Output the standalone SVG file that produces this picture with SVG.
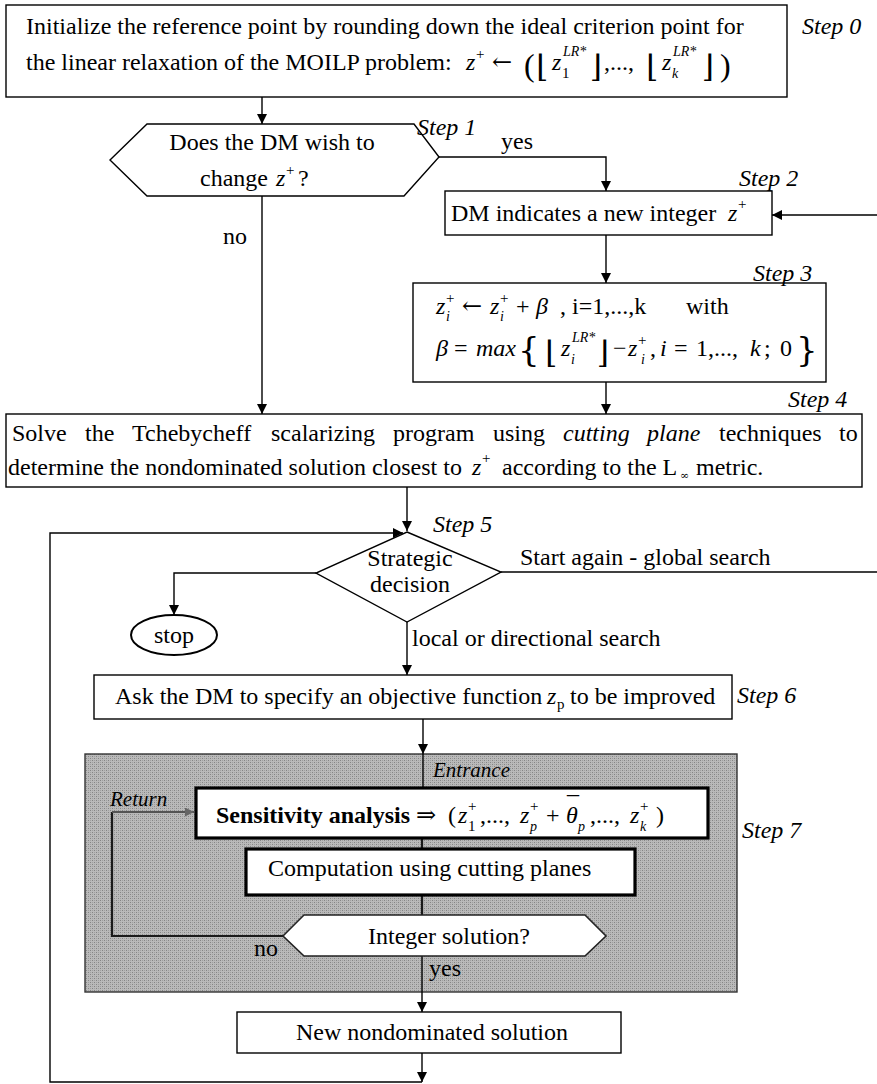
<svg xmlns="http://www.w3.org/2000/svg" width="877" height="1084" viewBox="0 0 877 1084">
  <style>
    text { font-family: "Liberation Serif", "DejaVu Serif", serif; font-size: 24px; fill: #000; }
    .it { font-style: italic; }
    .b { font-weight: bold; }
    .mid { text-anchor: middle; }
    .step { font-style: italic; font-size: 24px; }
    .small { font-size: 21px; font-style: italic; }
    .sup { font-size: 15px; }
    .supi { font-size: 14px; font-style: italic; }
    .big { font-size: 32px; }
    .sym { font-family: "DejaVu Serif", "Liberation Serif", serif; }
    .flr { font-family: "DejaVu Serif", "Liberation Serif", serif; font-size: 31px; }
    .brace { font-family: "DejaVu Serif", "Liberation Serif", serif; font-size: 34px; }
    .box { fill: #fff; stroke: #000; stroke-width: 1.4; }
    .thick { fill: #fff; stroke: #000; stroke-width: 3.2; }
    .wire { fill: none; stroke: #000; stroke-width: 1.4; }
    .wire2 { fill: none; stroke: #1a1a1a; stroke-width: 2.2; }
    .grey { fill: none; stroke: #555; stroke-width: 2; }
  </style>
  <defs>
    <marker id="ah" viewBox="0 0 10 10" refX="10" refY="5" markerWidth="10" markerHeight="10" markerUnits="userSpaceOnUse" orient="auto">
      <path d="M0,0 L10,5 L0,10 z" fill="#000"/>
    </marker>
    <marker id="ahg" viewBox="0 0 10 10" refX="10" refY="5" markerWidth="9" markerHeight="9" markerUnits="userSpaceOnUse" orient="auto">
      <path d="M0,0 L10,5 L0,10 z" fill="#666"/>
    </marker>
    <pattern id="dither" width="4" height="4" patternUnits="userSpaceOnUse">
      <rect width="4" height="4" fill="#bababa"/>
      <rect x="0" y="0" width="1" height="1" fill="#858585"/>
      <rect x="2" y="2" width="1" height="1" fill="#858585"/>
      <rect x="2" y="0" width="1" height="1" fill="#a0a0a0"/>
      <rect x="0" y="2" width="1" height="1" fill="#a0a0a0"/>
    </pattern>
  </defs>

  <rect width="877" height="1084" fill="#fff"/>

  <!-- shaded frame of step 7 -->
  <g id="step7-frame">
    <rect x="85" y="754" width="652" height="238" fill="url(#dither)" stroke="#333" stroke-width="1.4"/>
  </g>

  <!-- connectors -->
  <g id="connectors">
    <line class="wire" x1="262" y1="97" x2="262" y2="124" marker-end="url(#ah)"/>
    <polyline class="wire" points="439,157 606,157 606,191" marker-end="url(#ah)"/>
    <line class="wire" x1="262" y1="196" x2="262" y2="414" marker-end="url(#ah)"/>
    <line class="wire" x1="877" y1="215" x2="772" y2="215" marker-end="url(#ah)"/>
    <line class="wire" x1="606" y1="235" x2="606" y2="283" marker-end="url(#ah)"/>
    <line class="wire" x1="606" y1="382" x2="606" y2="414" marker-end="url(#ah)"/>
    <line class="wire" x1="407" y1="487" x2="407" y2="531" marker-end="url(#ah)"/>
    <polyline class="wire" points="422,1082 50,1082 50,533 403,533" marker-end="url(#ah)"/>
    <line class="wire" x1="501" y1="572" x2="877" y2="572"/>
    <polyline class="wire" points="316,573 174,573 174,615" marker-end="url(#ah)"/>
    <line class="wire" x1="407" y1="622" x2="407" y2="675" marker-end="url(#ah)"/>
    <line class="wire" x1="423" y1="719" x2="423" y2="754" marker-end="url(#ah)"/>
    <line class="wire" x1="423" y1="754" x2="423" y2="787"/>
    <line class="wire2" x1="422" y1="838" x2="422" y2="849"/>
    <line class="wire2" x1="422" y1="895" x2="422" y2="915"/>
    <polyline class="wire2" points="283,936 112,936 112,812"/>
    <line class="grey" x1="112" y1="812" x2="194" y2="812" marker-end="url(#ahg)"/>
    <line class="wire" x1="422" y1="956" x2="422" y2="1012" marker-end="url(#ah)"/>
    <line class="wire" x1="422" y1="1053" x2="422" y2="1082" marker-end="url(#ah)"/>
  </g>

  <!-- step 0 -->
  <g id="step0">
    <rect class="box" x="6" y="5" width="781" height="92"/>
    <text x="26" y="34">Initialize the reference point by rounding down the ideal criterion point for</text>
    <text x="26" y="70">the linear relaxation of the MOILP problem:</text>
    <text class="it" x="466" y="70">z</text>
    <text class="sup" x="476" y="59">+</text>
    <text class="sym" x="492" y="70">←</text>
    <text class="big" x="524" y="76">(</text>
    <text class="flr" x="536" y="77">⌊</text>
    <text class="it" x="552" y="70">z</text>
    <text class="sup" x="562" y="78">1</text>
    <text class="supi" x="563" y="56">LR*</text>
    <text class="flr" x="590" y="77">⌋</text>
    <text x="604" y="70">,...,</text>
    <text class="flr" x="646" y="77">⌊</text>
    <text class="it" x="662" y="70">z</text>
    <text class="supi" x="672" y="78">k</text>
    <text class="supi" x="673" y="56">LR*</text>
    <text class="flr" x="702" y="77">⌋</text>
    <text class="big" x="720" y="76">)</text>
    <text class="step" x="802" y="34">Step 0</text>
  </g>

  <!-- step 1 -->
  <g id="step1">
    <polygon class="box" points="110,160 147,124 414,124 439,157 404,196 147,196"/>
    <text class="mid" x="272" y="150">Does the DM wish to</text>
    <text x="200" y="186">change</text>
    <text class="it" x="276" y="186">z</text>
    <text class="sup" x="286" y="175">+</text>
    <text x="298" y="186">?</text>
    <text class="step" x="417" y="135">Step 1</text>
    <text x="501" y="149">yes</text>
    <text x="223" y="244">no</text>
  </g>

  <!-- step 2 -->
  <g id="step2">
    <rect class="box" x="445" y="191" width="327" height="44"/>
    <text x="451" y="221">DM indicates a new integer</text>
    <text class="it" x="728" y="221">z</text>
    <text class="sup" x="738" y="209">+</text>
    <text class="step" x="739" y="186">Step 2</text>
  </g>

  <!-- step 3 -->
  <g id="step3">
    <rect class="box" x="413" y="283" width="413" height="99"/>
    <text class="it" x="436" y="314">z</text>
    <text class="sup" x="446" y="303">+</text>
    <text class="supi" x="446" y="321">i</text>
    <text class="sym" x="462" y="314">←</text>
    <text class="it" x="490" y="314">z</text>
    <text class="sup" x="500" y="303">+</text>
    <text class="supi" x="500" y="321">i</text>
    <text x="516" y="314">+</text>
    <text class="it" x="536" y="314">β</text>
    <text x="560" y="314">,</text>
    <text x="572" y="314">i=1,...,k</text>
    <text x="686" y="314">with</text>
    <text class="it" x="436" y="356">β</text>
    <text x="454" y="356">=</text>
    <text class="it" x="476" y="356">max</text>
    <text class="brace" x="518" y="361">{</text>
    <text class="flr" x="545" y="363">⌊</text>
    <text class="it" x="561" y="356">z</text>
    <text class="supi" x="571" y="364">i</text>
    <text class="supi" x="572" y="342">LR*</text>
    <text class="flr" x="597" y="363">⌋</text>
    <text x="613" y="356">−</text>
    <text class="it" x="628" y="356">z</text>
    <text class="sup" x="638" y="345">+</text>
    <text class="supi" x="641" y="364">i</text>
    <text x="650" y="356">,</text>
    <text class="it" x="660" y="356">i</text>
    <text x="674" y="356">=</text>
    <text x="696" y="356">1,...,</text>
    <text class="it" x="750" y="356">k</text>
    <text x="764" y="356">;</text>
    <text x="780" y="356">0</text>
    <text class="brace" x="796" y="361">}</text>
    <text class="step" x="753" y="281">Step 3</text>
  </g>

  <!-- step 4 -->
  <g id="step4">
    <rect class="box" x="6" y="414" width="856" height="73"/>
    <text y="441"><tspan x="12">Solve</tspan><tspan x="85">the</tspan><tspan x="132">Tchebycheff</tspan><tspan x="271">scalarizing</tspan><tspan x="393">program</tspan><tspan x="493">using</tspan><tspan x="563" font-style="italic">cutting</tspan><tspan x="647" font-style="italic">plane</tspan><tspan x="719">techniques</tspan><tspan x="839">to</tspan></text>
    <text x="8" y="475">determine the nondominated solution closest to</text>
    <text class="it" x="472" y="475">z</text>
    <text class="sup" x="482" y="463">+</text>
    <text x="502" y="475">according to the L</text>
    <text class="sym" style="font-size:11px" x="680" y="479">∞</text>
    <text x="696" y="475">metric.</text>
    <text class="step" x="788" y="407">Step 4</text>
  </g>

  <!-- step 5 -->
  <g id="step5">
    <polygon class="box" points="407,532 501,572 407,622 316,573"/>
    <text class="mid" x="410" y="566">Strategic</text>
    <text class="mid" x="410" y="592">decision</text>
    <text class="step" x="433" y="532">Step 5</text>
    <text x="520" y="565">Start again - global search</text>
    <text x="412" y="646">local or directional search</text>
  </g>

  <g id="stop">
    <ellipse cx="174" cy="635" rx="43" ry="20" fill="#fff" stroke="#000" stroke-width="2"/>
    <text class="mid" x="174" y="643">stop</text>
  </g>

  <!-- step 6 -->
  <g id="step6">
    <rect class="box" x="94" y="675" width="638" height="44"/>
    <text x="115" y="704">Ask the DM to specify an objective function</text>
    <text class="it" x="547" y="704">z</text>
    <text style="font-size:15px" x="557" y="709">p</text>
    <text x="570" y="704">to be improved</text>
    <text class="step" x="737" y="703">Step 6</text>
  </g>

  <!-- step 7 -->
  <g id="step7">
    <text class="small" x="433" y="777">Entrance</text>
    <text class="small" x="110" y="806">Return</text>
    <rect class="thick" x="196" y="788" width="512" height="50"/>
    <text class="b" x="216" y="823">Sensitivity analysis</text>
    <text class="sym" x="416" y="823">⇒</text>
    <text x="448" y="823">(</text>
    <text class="it" x="458" y="823">z</text>
    <text class="sup" x="468" y="831">1</text>
    <text class="sup" x="468" y="811">+</text>
    <text x="480" y="823">,...,</text>
    <text class="it" x="520" y="823">z</text>
    <text class="supi" x="530" y="831">p</text>
    <text class="sup" x="530" y="811">+</text>
    <text x="546" y="823">+</text>
    <text class="it" x="566" y="823">θ</text>
    <text x="567" y="813">¯</text>
    <text class="supi" x="578" y="831">p</text>
    <text x="590" y="823">,...,</text>
    <text class="it" x="630" y="823">z</text>
    <text class="supi" x="640" y="831">k</text>
    <text class="sup" x="640" y="811">+</text>
    <text x="656" y="823">)</text>
    <text class="step" x="742" y="838">Step 7</text>
  </g>

  <g id="computation">
    <rect class="thick" x="246" y="849" width="389" height="46"/>
    <text x="268" y="876">Computation using cutting planes</text>
  </g>

  <g id="integer-check">
    <polygon fill="#fff" stroke="#222" stroke-width="1.6" points="283,936 304,915 585,915 606,936 585,956 304,956"/>
    <text x="368" y="944">Integer solution?</text>
    <text x="254" y="956">no</text>
    <text x="429" y="976">yes</text>
  </g>

  <g id="new-solution">
    <rect class="box" x="237" y="1012" width="384" height="41"/>
    <text x="296" y="1040">New nondominated solution</text>
  </g>
</svg>
